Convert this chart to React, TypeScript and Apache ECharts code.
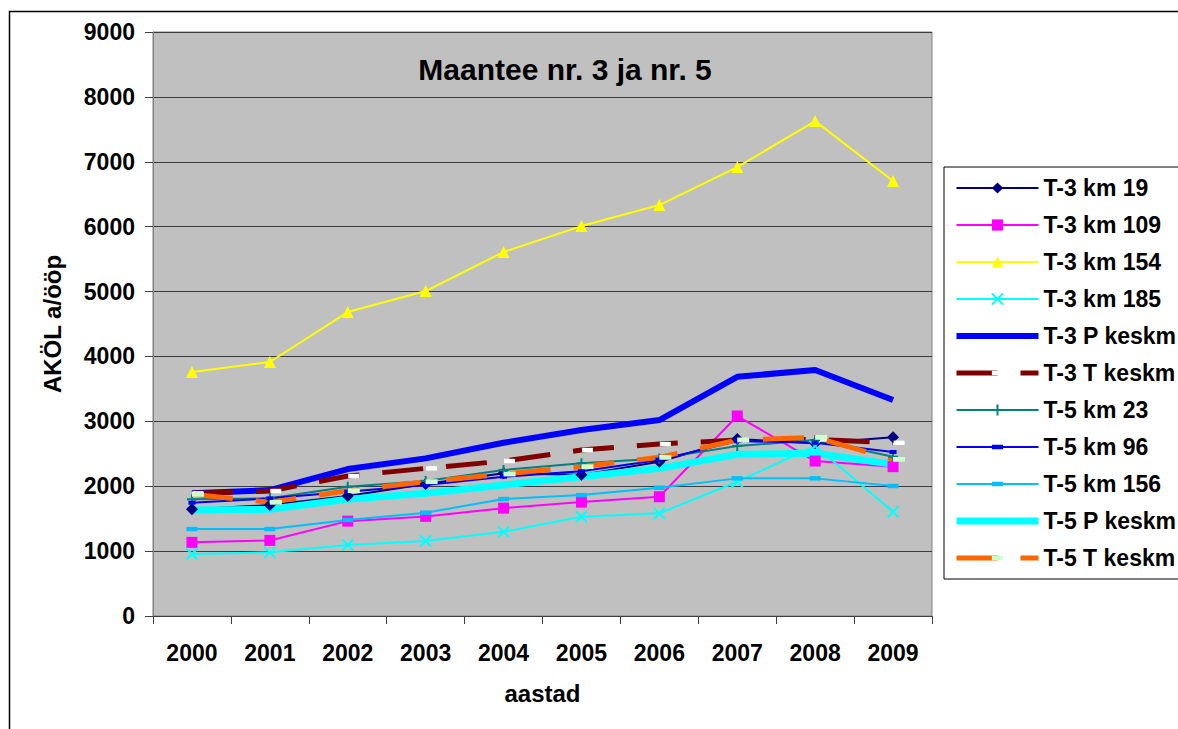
import React, { useEffect, useRef } from "react";
import * as echarts from "echarts";

const years = ["2000", "2001", "2002", "2003", "2004", "2005", "2006", "2007", "2008", "2009"];

const t3km19 = [1644, 1710, 1849, 2034, 2199, 2175, 2378, 2727, 2661, 2753];
const t3km109 = [1135, 1165, 1462, 1535, 1662, 1755, 1838, 3082, 2388, 2301];
const t3km154 = [3760, 3914, 4684, 5008, 5609, 6009, 6333, 6918, 7627, 6703];
const t3km185 = [955, 981, 1094, 1155, 1297, 1530, 1582, 2069, 2619, 1607];
const t3P = [1890, 1941, 2265, 2429, 2670, 2866, 3020, 3687, 3790, 3328];
const t3T = [1890, 1926, 2157, 2275, 2388, 2558, 2650, 2712, 2720, 2670];
const t5km23 = [1798, 1813, 1993, 2080, 2250, 2353, 2429, 2619, 2712, 2455];
const t5km96 = [1746, 1813, 1916, 2018, 2147, 2230, 2404, 2696, 2670, 2527];
const t5km156 = [1340, 1340, 1479, 1592, 1803, 1864, 1977, 2121, 2121, 2003];
const t5P = [1633, 1644, 1798, 1890, 2018, 2147, 2275, 2491, 2507, 2337];
const t5T = [1875, 1752, 1931, 2070, 2188, 2301, 2445, 2712, 2753, 2414];

const yTicks = [0, 1000, 2000, 3000, 4000, 5000, 6000, 7000, 8000, 9000];

const FONT = "'Liberation Sans', Arial, sans-serif";
const X_PATH = "path://M0,0L10,10M10,0L0,10";
const PLUS_PATH = "path://M5,0V10M0,5H10";
const BAR_PATH = "path://M0,0M10,10M0,3H10V7H0Z";
const DASH: number[] = [41, 23];

export default function App() {
  const ref = useRef<HTMLDivElement>(null);

  useEffect(() => {
    if (!ref.current) return;
    const chart = echarts.init(ref.current, null, { renderer: "svg" });

    const thin = (name: string, data: number[], color: string, symbol: string, size: any, extra: any = {}) => ({
      name,
      type: "line",
      data,
      symbol,
      symbolSize: size,
      showAllSymbol: true,
      lineStyle: { color, width: 2 },
      itemStyle: { color, borderColor: color, borderWidth: extra.borderWidth ?? 0 },
      symbolOffset: extra.symbolOffset ?? [0, 0],
      emphasis: { disabled: true },
      z: extra.z ?? 2,
    });

    const option: any = {
      animation: false,
      backgroundColor: "#ffffff",
      textStyle: { fontFamily: FONT },
      graphic: [
        {
          type: "rect",
          shape: { x: 9.5, y: 11.5, width: 1300, height: 900 },
          style: { fill: "none", stroke: "#000", lineWidth: 1.5 },
          silent: true,
          z: -10,
        },
        {
          type: "text",
          x: 565,
          y: 69,
          style: {
            text: "Maantee nr. 3 ja nr. 5",
            font: `bold 30px ${FONT}`,
            fill: "#000",
            textAlign: "center",
            textVerticalAlign: "middle",
          },
          z: 10,
        },
      ],
      grid: {
        left: 153,
        top: 32,
        right: 246,
        bottom: 113,
        show: true,
        backgroundColor: "#C0C0C0",
        borderColor: "#808080",
        borderWidth: 1,
        containLabel: false,
      },
      legend: {
        orient: "vertical",
        left: 944,
        top: 167,
        padding: [8, 40, 8, 9],
        itemGap: 11,
        itemWidth: 82,
        itemHeight: 14,
        backgroundColor: "#ffffff",
        borderColor: "#000000",
        borderWidth: 1,
        borderRadius: 0,
        selectedMode: false,
        textStyle: { fontFamily: FONT, fontSize: 23, fontWeight: "bold", color: "#000", lineHeight: 26 },
        data: [
          { name: "T-3 km 19", lineStyle: { width: 2 } },
          { name: "T-3 km 109", lineStyle: { width: 2 } },
          { name: "T-3 km 154", lineStyle: { width: 2 } },
          { name: "T-3 km 185", lineStyle: { width: 2 } },
          { name: "T-3 P keskm", lineStyle: { width: 6 }, itemStyle: { color: "rgba(0,0,0,0)", borderWidth: 0 } },
          { name: "T-3 T keskm", lineStyle: { width: 5, type: DASH } },
          { name: "T-5 km 23", lineStyle: { width: 2 } },
          { name: "T-5 km 96", lineStyle: { width: 2 } },
          { name: "T-5 km 156", lineStyle: { width: 2 } },
          { name: "T-5 P keskm", lineStyle: { width: 7 }, itemStyle: { color: "rgba(0,0,0,0)", borderWidth: 0 } },
          { name: "T-5 T keskm", lineStyle: { width: 5, type: DASH } },
        ],
      },
      xAxis: {
        type: "category",
        data: years,
        boundaryGap: true,
        name: "aastad",
        nameLocation: "middle",
        nameGap: 65,
        nameTextStyle: { fontFamily: FONT, fontSize: 24, fontWeight: "bold", color: "#000" },
        axisLine: { show: true, lineStyle: { color: "#404040", width: 1 } },
        axisTick: { show: true, alignWithLabel: false, length: 8, lineStyle: { color: "#404040" } },
        axisLabel: { margin: 25, fontFamily: FONT, fontSize: 23, fontWeight: "bold", color: "#000", interval: 0 },
        splitLine: { show: false },
      },
      yAxis: {
        type: "value",
        min: yTicks[0],
        max: yTicks[yTicks.length - 1],
        interval: 1000,
        name: "AKÖL a/ööp",
        nameLocation: "middle",
        nameGap: 89,
        nameTextStyle: { fontFamily: FONT, fontSize: 24, fontWeight: "bold", color: "#000" },
        axisLine: { show: true, lineStyle: { color: "#808080", width: 1 } },
        axisTick: { show: true, length: 8, lineStyle: { color: "#404040" } },
        axisLabel: {
          margin: 18,
          fontFamily: FONT,
          fontSize: 23,
          fontWeight: "bold",
          color: "#000",
          formatter: (v: number) => String(v),
        },
        splitLine: { show: true, lineStyle: { color: "#3c3c3c", width: 1 } },
      },
      series: [
        thin("T-3 km 19", t3km19, "#000080", "diamond", 12),
        thin("T-3 km 109", t3km109, "#FF00FF", "rect", 11),
        thin("T-3 km 154", t3km154, "#FFFF00", "triangle", 12),
        thin("T-3 km 185", t3km185, "#00FFFF", X_PATH, 11, { borderWidth: 2 }),
        {
          name: "T-3 P keskm",
          type: "line",
          data: t3P,
          symbol: "none",
          lineStyle: { color: "#0000FF", width: 6 },
          itemStyle: { color: "#0000FF" },
          emphasis: { disabled: true },
          z: 2,
        },
        {
          name: "T-3 T keskm",
          type: "line",
          data: t3T,
          symbol: BAR_PATH,
          symbolSize: [11, 11],
          symbolOffset: [6, 0],
          showAllSymbol: true,
          lineStyle: { color: "#800000", width: 5, type: DASH },
          itemStyle: { color: "#FFFFFF" },
          emphasis: { disabled: true },
          z: 2,
        },
        thin("T-5 km 23", t5km23, "#008080", PLUS_PATH, 10, { borderWidth: 2 }),
        thin("T-5 km 96", t5km96, "#0000EE", BAR_PATH, [7, 10]),
        thin("T-5 km 156", t5km156, "#00BFFF", BAR_PATH, [11, 11]),
        {
          name: "T-5 P keskm",
          type: "line",
          data: t5P,
          symbol: "none",
          lineStyle: { color: "#00FFFF", width: 7 },
          itemStyle: { color: "#00FFFF" },
          emphasis: { disabled: true },
          z: 2,
        },
        {
          name: "T-5 T keskm",
          type: "line",
          data: t5T,
          symbol: BAR_PATH,
          symbolSize: [12, 12],
          symbolOffset: [6, 0],
          showAllSymbol: true,
          lineStyle: { color: "#FF6600", width: 5, type: DASH },
          itemStyle: { color: "#CCFFCC" },
          emphasis: { disabled: true },
          z: 2,
        },
      ],
    };

    chart.setOption(option);
    return () => chart.dispose();
  }, []);

  return (
    <div
      ref={ref}
      style={{ position: "absolute", left: 0, top: 0, width: 1178, height: 729 }}
    />
  );
}
